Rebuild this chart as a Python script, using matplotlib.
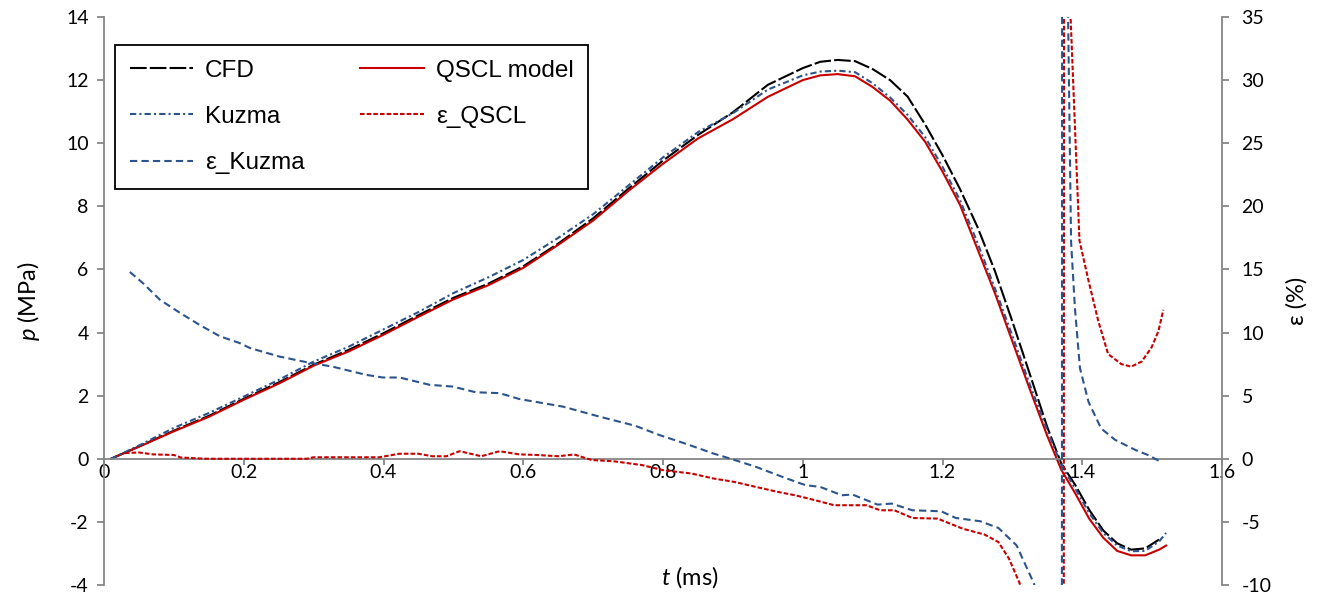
import matplotlib
matplotlib.use('Agg')
import matplotlib.pyplot as plt

plt.rcParams['font.family'] = ['Lato', 'DejaVu Sans']
plt.rcParams['mathtext.fontset'] = 'custom'
plt.rcParams['mathtext.it'] = 'Lato:italic'
plt.rcParams['mathtext.rm'] = 'Lato'
plt.rcParams['axes.unicode_minus'] = False

# time axis of the pressure curves (ms)
t_p = [0.01, 0.05, 0.1, 0.15, 0.2, 0.25, 0.3, 0.35, 0.4, 0.45, 0.5, 0.55, 0.6, 0.65,
       0.7, 0.75, 0.8, 0.85, 0.9, 0.95, 1.0, 1.025, 1.05, 1.075, 1.1, 1.125, 1.15,
       1.175, 1.2, 1.225, 1.25, 1.275, 1.3, 1.325, 1.35, 1.37, 1.39, 1.41, 1.43,
       1.45, 1.47, 1.49, 1.51, 1.52]

# pressure (MPa)
p_cfd = [0, 0.39, 0.89, 1.36, 1.9, 2.42, 2.98, 3.45, 3.98, 4.55, 5.1, 5.55, 6.1, 6.82,
         7.62, 8.55, 9.45, 10.26, 10.98, 11.85, 12.38, 12.58, 12.64, 12.6, 12.35, 12.0,
         11.48, 10.6, 9.62, 8.55, 7.35, 5.95, 4.35, 2.68, 1.0, -0.15, -0.83, -1.62,
         -2.27, -2.68, -2.88, -2.84, -2.56, None]
p_kuzma = [0, 0.42, 0.98, 1.45, 1.97, 2.5, 3.08, 3.55, 4.1, 4.65, 5.25, 5.75, 6.3, 7.0,
           7.75, 8.65, 9.55, 10.35, 10.95, 11.7, 12.15, 12.27, 12.3, 12.25, 11.9, 11.45,
           10.9, 10.2, 9.25, 8.2, 6.85, 5.4, 3.9, 2.35, 0.9, -0.2, -0.95, -1.72, -2.35,
           -2.75, -2.93, -2.92, -2.62, -2.35]
p_qscl = [0, 0.38, 0.87, 1.33, 1.87, 2.38, 2.95, 3.4, 3.93, 4.5, 5.05, 5.5, 6.05, 6.78,
          7.55, 8.48, 9.35, 10.15, 10.76, 11.47, 12.0, 12.15, 12.19, 12.12, 11.78, 11.35,
          10.75, 10.05, 9.1, 8.05, 6.65, 5.25, 3.72, 2.2, 0.72, -0.35, -1.1, -1.9, -2.5,
          -2.92, -3.06, -3.06, -2.88, -2.75]

# relative error (%) of the Kuzma model
t_ek = [0.037, 0.056, 0.08, 0.109, 0.137, 0.166, 0.194, 0.209, 0.251, 0.29, 0.327,
        0.375, 0.399, 0.423, 0.466, 0.499, 0.532, 0.566, 0.594, 0.657, 0.709, 0.76,
        0.795, 0.831, 0.872, 0.897, 0.933, 0.974, 1.004, 1.025, 1.056, 1.071, 1.107,
        1.127, 1.157, 1.198, 1.219, 1.254, 1.28, 1.306, 1.331, 1.35, 1.362, 1.369,
        1.3714, 1.384, 1.3895, 1.3967, 1.409, 1.427, 1.447, 1.476, 1.494, 1.511]
e_kuzma = [14.8, 13.9, 12.6, 11.55, 10.6, 9.7, 9.17, 8.77, 8.1, 7.65, 7.3, 6.65, 6.44,
           6.44, 5.86, 5.72, 5.27, 5.2, 4.74, 4.13, 3.34, 2.62, 1.88, 1.22, 0.42, 0.0,
           -0.64, -1.5, -2.09, -2.23, -2.89, -2.83, -3.63, -3.55, -4.08, -4.16, -4.69,
           -4.95, -5.48, -6.86, -9.9, -16, -40, -300, 70, 17.2, 11.95, 7.18, 4.5, 2.4,
           1.5, 0.7, 0.3, -0.2]

# relative error (%) of the QSCL model
t_eq = [0.03, 0.05, 0.07, 0.1, 0.11, 0.147, 0.29, 0.3, 0.394, 0.423, 0.45, 0.47, 0.49,
        0.509, 0.54, 0.566, 0.594, 0.62, 0.65, 0.673, 0.698, 0.73, 0.77, 0.8, 0.841,
        0.872, 0.902, 0.933, 0.964, 0.989, 1.014, 1.045, 1.091, 1.111, 1.131, 1.157,
        1.193, 1.229, 1.26, 1.28, 1.295, 1.31, 1.33, 1.35, 1.365, 1.3715, 1.374,
        1.396, 1.409, 1.423, 1.437, 1.456, 1.47, 1.485, 1.499, 1.509, 1.516]
e_qscl = [0.45, 0.5, 0.35, 0.3, 0.1, 0.0, 0.0, 0.12, 0.12, 0.4, 0.4, 0.2, 0.2, 0.6,
          0.2, 0.6, 0.35, 0.3, 0.2, 0.34, -0.1, -0.2, -0.5, -0.9, -1.17, -1.56, -1.83,
          -2.23, -2.62, -2.89, -3.23, -3.68, -3.68, -4.08, -4.08, -4.69, -4.74, -5.54,
          -6.0, -6.6, -7.9, -9.8, -14, -25, -60, -300, 48, 17.3, 14.1, 10.9, 8.3, 7.5,
          7.3, 7.7, 8.8, 10.1, 11.8]

blue = '#2C548C'
red = '#C80000'
grey = '#868686'

fig = plt.figure(figsize=(13.22, 5.96), dpi=100)
ax = fig.add_axes([104 / 1322, 1 - 585 / 596, 1118 / 1322, 568 / 596])
ax2 = ax.twinx()

l_cfd, = ax.plot(t_p, p_cfd, color='black', lw=1.5, ls=(0, (8, 1.5)))
l_qscl, = ax.plot(t_p, p_qscl, color=red, lw=1.5)
l_kuz, = ax.plot(t_p, p_kuzma, color=blue, lw=1.5, ls=(0, (3, 1.5, 1, 1.5)))
l_eq, = ax2.plot(t_eq, e_qscl, color=red, lw=1.5, ls=(0, (2.2, 1)))
l_ek, = ax2.plot(t_ek, e_kuzma, color=blue, lw=1.5, ls=(0, (3.5, 2)))

ax.set_xlim(0, 1.6)
ax.set_ylim(-4, 14)
ax2.set_ylim(-10, 35)

xt = [0, 0.2, 0.4, 0.6, 0.8, 1.0, 1.2, 1.4, 1.6]
ax.set_xticks(xt)
ax.set_xticklabels(['0', '0.2', '0.4', '0.6', '0.8', '1', '1.2', '1.4', '1.6'])
ax.set_yticks(range(-4, 15, 2))
ax2.set_yticks(range(-10, 36, 5))

for a in (ax, ax2):
    a.spines['top'].set_visible(False)
ax.spines['right'].set_visible(False)
ax2.spines['left'].set_visible(False)
ax2.spines['bottom'].set_visible(False)
ax.spines['bottom'].set_position(('data', 0))
for s in ('left', 'bottom'):
    ax.spines[s].set_color(grey)
    ax.spines[s].set_linewidth(1.3)
ax2.spines['right'].set_color(grey)
ax2.spines['right'].set_linewidth(1.3)

ax.tick_params(axis='x', direction='out', length=4, width=1.3, color=grey,
               labelsize=14, pad=0)
ax.tick_params(axis='y', direction='out', length=5, width=1.3, color=grey,
               labelsize=14, pad=6)
ax2.tick_params(axis='y', direction='out', length=5, width=1.3, color=grey,
                labelsize=14, pad=9)

ax.text(0.524, 0.014, r'$\mathit{t}$ (ms)', transform=ax.transAxes,
        ha='center', va='center', fontsize=17)
fig.text(29 / 1322, 1 - 301 / 596, r'$\mathit{p}$ (MPa)', rotation=90,
         ha='center', va='center', fontsize=17)
fig.text(1297 / 1322, 1 - 301 / 596, 'ε (%)', rotation=90,
         ha='center', va='center', fontsize=17)

leg = ax2.legend([l_cfd, l_kuz, l_ek, l_qscl, l_eq],
                 ['CFD', 'Kuzma', 'ε_Kuzma', 'QSCL model', 'ε_QSCL'],
                 ncol=2, loc='upper left',
                 bbox_to_anchor=(115 / 1322, 1 - 45 / 596),
                 bbox_transform=fig.transFigure, borderaxespad=0,
                 prop={'family': 'Liberation Sans', 'size': 17.5},
                 handlelength=2.6, handletextpad=0.5, columnspacing=2.3,
                 labelspacing=1.0, borderpad=0.6, frameon=True, fancybox=False)
leg.get_frame().set_edgecolor('black')
leg.get_frame().set_linewidth(1.3)
leg.get_frame().set_alpha(1)

fig.savefig('out.png', dpi=100)
